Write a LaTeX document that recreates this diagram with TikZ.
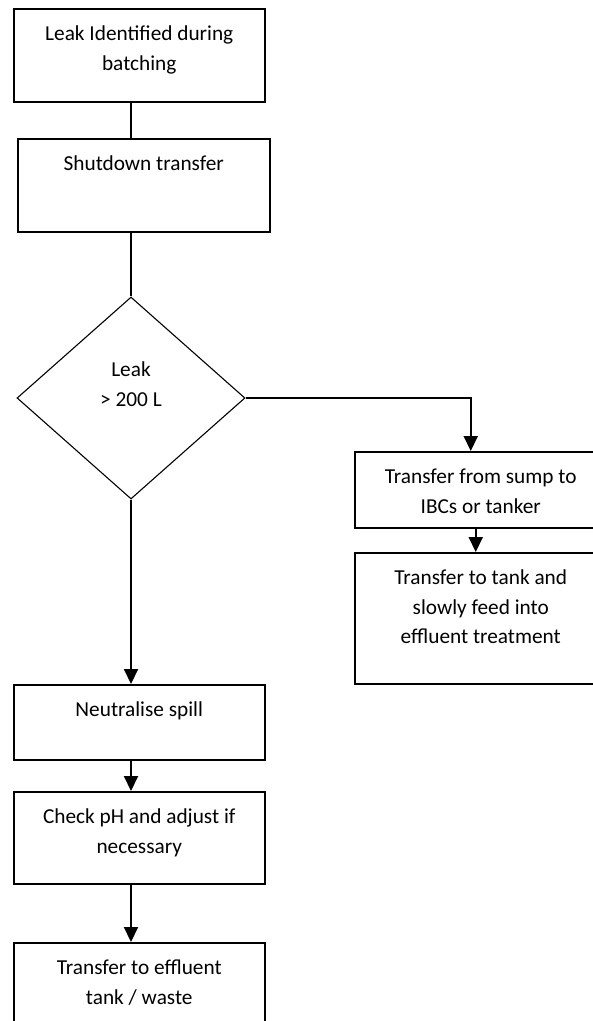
\documentclass[tikz,border=0pt]{standalone}
\usepackage{fontspec}
\setmainfont{Carlito}
\usetikzlibrary{shapes.geometric,arrows.meta}
\newcommand{\boxtext}[3]{\parbox[c][#2][t]{#1}{\centering\rule{0pt}{32pt}#3}}

\begin{document}
\begin{tikzpicture}[x=1pt,y=-1pt,
    flowbox/.style={draw, line width=1.5pt, inner sep=0pt, anchor=north west, font=\fontsize{21.3}{29.5}\selectfont},
    decision/.style={draw, diamond, line width=1.1pt, inner sep=0pt, minimum width=228pt, minimum height=202pt},
    flowline/.style={line width=2pt},
    flowarrow/.style={flowline, -{Triangle[width=14pt,length=15pt]}}]
            \useasboundingbox (0,0) rectangle (593,1021);
            \clip (0,0) rectangle (593,1021);

            \node[flowbox] (leak) at (13,8) {\boxtext{251pt}{93pt}{Leak Identified during\\batching}};
            \node[flowbox] (shutdown) at (17,138) {\boxtext{252pt}{93pt}{Shutdown transfer}};

            \node[decision] (dec) at (131,398) {};
            \node[font=\fontsize{21.3}{29.5}\selectfont, align=center] (declabel) at (131,384) {Leak\\> 200 L};

            \node[flowbox] (sump) at (354,451) {\boxtext{252pt}{76pt}{Transfer from sump to\\IBCs or tanker}};
            \node[flowbox] (tank) at (354,552) {\boxtext{252pt}{131pt}{Transfer to tank and\\slowly feed into\\effluent treatment}};

            \node[flowbox] (neut) at (13,684) {\boxtext{251pt}{75pt}{Neutralise spill}};
            \node[flowbox] (check) at (13,791) {\boxtext{251pt}{92pt}{Check pH and adjust if\\necessary}};
            \node[flowbox] (waste) at (13,942) {\boxtext{251pt}{93pt}{Transfer to effluent\\tank / waste}};

            \draw[flowline] (leak.south -| dec.north) -- (shutdown.north -| dec.north);
            \draw[flowline] (shutdown.south -| dec.north) -- (dec.north);
            \draw[flowarrow] (dec.east) -| ([xshift=-10pt]sump.north);
            \draw[flowarrow] ([xshift=-5pt]sump.south) -- ([xshift=-5pt]tank.north);
            \draw[flowarrow] (dec.south) -- (dec.south |- neut.north);
            \draw[flowarrow] (neut.south -| dec.south) -- (check.north -| dec.south);
            \draw[flowarrow] (check.south -| dec.south) -- (waste.north -| dec.south);
        \end{tikzpicture}
\end{document}
